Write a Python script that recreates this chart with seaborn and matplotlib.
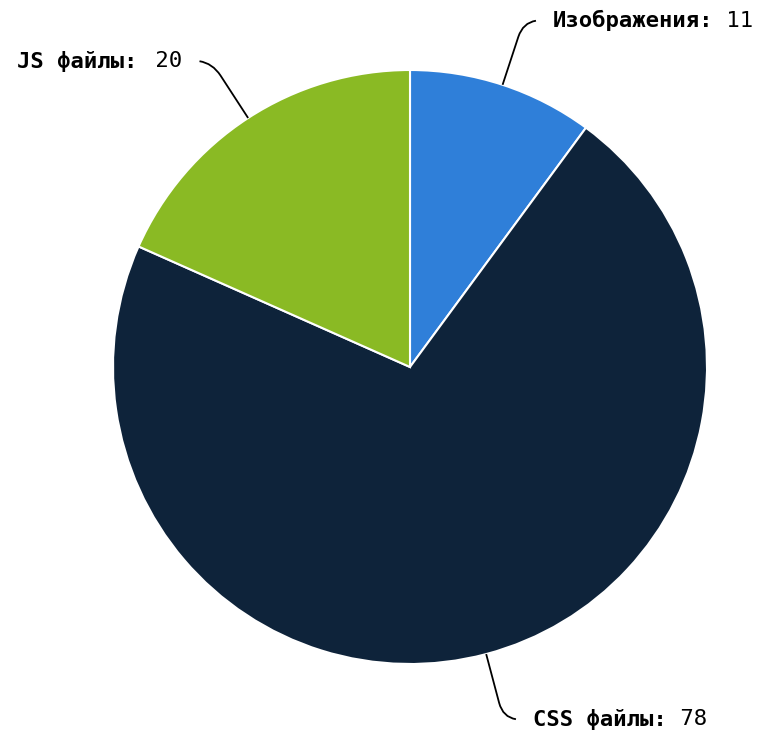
import numpy as np
import matplotlib
matplotlib.use("Agg")
import matplotlib.pyplot as plt
import seaborn as sns
from matplotlib.path import Path
from matplotlib.patches import PathPatch

sns.set_style("white")
plt.rcParams['font.family'] = ['DejaVu Sans Mono', 'DejaVu Sans']

# data
labels = ["Изображения", "CSS файлы", "JS файлы"]
values = [11, 78, 20]
colors = ["#2f7fd9", "#0e233a", "#8aba24"]

W, H = 767, 733
fig = plt.figure(figsize=(W / 100, H / 100), dpi=100)
ax = fig.add_axes([0, 0, 1, 1])

cx, cy, r = 410, H - 367, 297
ax.pie(values, colors=colors, startangle=90, counterclock=False,
       center=(cx, cy), radius=r, frame=True,
       wedgeprops=dict(edgecolor="white", linewidth=1.5))
ax.set_xlim(0, W)
ax.set_ylim(0, H)
ax.set_aspect("equal")
ax.axis("off")

renderer = fig.canvas.get_renderer()
fs = 16
total = sum(values)
cum = 0
for lab, val in zip(labels, values):
    mid = (cum + val / 2) / total * 2 * np.pi
    cum += val
    sx, sy = np.sin(mid), np.cos(mid)
    # connector: radial segment, then a bend towards the label
    p0 = (cx + r * sx, cy + r * sy)
    p1 = (cx + 1.17 * r * sx, cy + 1.17 * r * sy)
    pc = (cx + 1.22 * r * sx, cy + 1.22 * r * sy)
    side = 1 if sx >= 0 else -1
    p2 = (pc[0] + side * 13, pc[1] + (2 if sy > 0 else -2))
    path = Path([p0, p1, pc, p2],
                [Path.MOVETO, Path.LINETO, Path.CURVE3, Path.CURVE3])
    ax.add_patch(PathPatch(path, fill=False, edgecolor="black", lw=1.3))

    tx = p2[0] + side * 17
    ty = p2[1]
    if side > 0:
        t1 = ax.text(tx, ty, f"{lab}:", fontsize=fs, fontweight="bold",
                     ha="left", va="center", color="black")
        bb = t1.get_window_extent(renderer)
        ax.text(bb.x1, ty, f" {val}", fontsize=fs, ha="left", va="center",
                color="black")
    else:
        t2 = ax.text(tx, ty, f" {val}", fontsize=fs, ha="right", va="center",
                     color="black")
        bb = t2.get_window_extent(renderer)
        ax.text(bb.x0 - 5, ty, f"{lab}:", fontsize=fs, fontweight="bold",
                ha="right", va="center", color="black")

fig.savefig("out.png", dpi=100)
